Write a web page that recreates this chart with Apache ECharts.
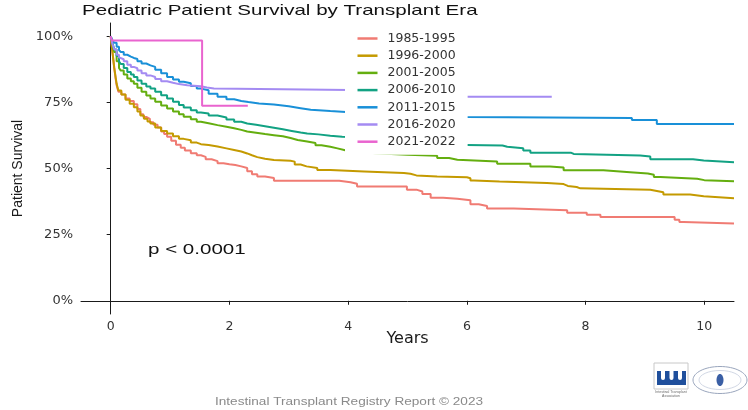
<!DOCTYPE html>
<html>
<head>
<meta charset="utf-8">
<title>Pediatric Patient Survival by Transplant Era</title>
<script src="https://cdn.jsdelivr.net/npm/echarts@6/dist/echarts.min.js"></script>
<style>
  html, body { margin: 0; padding: 0; background: #fff; }
  #chart { width: 748px; height: 410px; }
</style>
</head>
<body>
<div id="chart"></div>
<script>
// Kaplan-Meier steps: [years, survival %]
const eraNames = ['1985-1995', '1996-2000', '2001-2005', '2006-2010', '2011-2015', '2016-2020', '2021-2022']
const eraColors = ['#F07B73', '#C49A00', '#64AE0F', '#12A283', '#1990D8', '#A48BF2', '#E964CF']

const era1985 = [
  [0, 100], [0.02, 96], [0.04, 92], [0.06, 88], [0.08, 84.5], [0.1, 81.5], [0.13, 79], [0.18, 78],
  [0.25, 76.5], [0.32, 75.5], [0.39, 74.3], [0.45, 72.5], [0.5, 70.5], [0.55, 69.5], [0.6, 68.8],
  [0.66, 67.5], [0.72, 66.5], [0.79, 65.5], [0.85, 64], [0.9, 63], [0.95, 62], [1.02, 60.5],
  [1.1, 59], [1.18, 57.8], [1.25, 56.8], [1.35, 55.8], [1.45, 55], [1.52, 54.4], [1.6, 53.5],
  [1.7, 52.8], [1.8, 52], [1.9, 51.6], [2.0, 51.3], [2.1, 50.8], [2.2, 50.2], [2.3, 49], [2.38, 47.8],
  [2.47, 47], [2.6, 46.4], [2.75, 45.4], [3.85, 44.8], [4.04, 44.2], [4.15, 43.2], [4.99, 42],
  [5.15, 41.3], [5.25, 40.4], [5.39, 38.9], [5.6, 38.6], [5.84, 38], [6.06, 36.5], [6.2, 35.8],
  [6.34, 34.9], [6.79, 34.2], [7.69, 33.3], [8.02, 32.5], [8.25, 31.7], [9.5, 30.6], [9.58, 29.8],
  [9.65, 29.2], [10.5, 29.2]
]
const era1996 = [
  [0, 100], [0.02, 96], [0.04, 92], [0.06, 88], [0.08, 85], [0.1, 82], [0.13, 79.5], [0.18, 78],
  [0.25, 76], [0.32, 74.5], [0.39, 73.2], [0.45, 71.5], [0.5, 70], [0.56, 68.8], [0.62, 67.8],
  [0.67, 67], [0.75, 65.5], [0.85, 64.2], [0.95, 63.2], [1.05, 62.2], [1.15, 61.2], [1.23, 60.7],
  [1.35, 59.8], [1.45, 59.2], [1.52, 58.9], [1.65, 58.3], [1.8, 57.6], [1.95, 57], [2.08, 56.4],
  [2.2, 55.7], [2.3, 55], [2.38, 54.3], [2.47, 53.7], [2.6, 53.2], [2.75, 52.9], [3.03, 52.6],
  [3.1, 51.5], [3.2, 50.8], [3.3, 50.2], [3.48, 49.4], [3.7, 48.9], [4.27, 48.3], [4.94, 48],
  [5.05, 47.4], [5.15, 47], [5.5, 46.7], [6.0, 46.3], [6.06, 45.5], [6.12, 45.1], [6.55, 44.5],
  [7.35, 44.1], [7.63, 43.4], [7.7, 43], [7.85, 42.5], [7.91, 42], [9.09, 41.5], [9.2, 41],
  [9.31, 40.2], [9.76, 39.5], [9.99, 38.8], [10.5, 38.6]
]
const era2001 = [
  [0, 100], [0.03, 97], [0.06, 94], [0.1, 90.5], [0.14, 88], [0.17, 87], [0.22, 85.5], [0.28, 84],
  [0.34, 83], [0.39, 82], [0.45, 80.5], [0.52, 79], [0.6, 77.6], [0.67, 76.5], [0.75, 75.2],
  [0.85, 73.8], [0.95, 72.7], [1.05, 71.5], [1.15, 70.5], [1.23, 69.6], [1.35, 68.6], [1.45, 67.7],
  [1.52, 67.1], [1.65, 66.4], [1.8, 65.8], [1.95, 65.2], [2.08, 64.6], [2.2, 64], [2.3, 63.5],
  [2.45, 63], [2.6, 62.6], [2.75, 62.2], [2.9, 61.5], [3.03, 60.8], [3.15, 60.2], [3.31, 59.6],
  [3.45, 58.8], [3.55, 58.2], [3.7, 57.6], [3.82, 56.9], [3.95, 56.5], [4.2, 55.8], [4.45, 55.2],
  [5.0, 54.8], [5.5, 54], [5.7, 53.3], [5.84, 52.6], [6.51, 51.8], [7.07, 50.8], [7.4, 50.4],
  [7.63, 49.3], [8.3, 48.6], [8.75, 48.1], [9.05, 47.6], [9.15, 46.8], [9.26, 46.1], [9.88, 45.6],
  [10.0, 45.2], [10.5, 45.2]
]
const era2006 = [
  [0, 100], [0.03, 97.5], [0.06, 95], [0.1, 92.5], [0.14, 90.5], [0.17, 89.5], [0.22, 88],
  [0.28, 86.5], [0.34, 85.5], [0.39, 84.6], [0.45, 83.3], [0.52, 82], [0.6, 81], [0.67, 80.2],
  [0.75, 79], [0.85, 77.7], [0.95, 76.5], [1.05, 75.2], [1.15, 74], [1.23, 73.1], [1.35, 72],
  [1.45, 71.2], [1.52, 70.8], [1.65, 70], [1.8, 69.3], [1.95, 68.5], [2.08, 67.7], [2.2, 67],
  [2.3, 66.5], [2.45, 66], [2.6, 65.4], [2.75, 64.8], [2.9, 64.2], [3.05, 63.6], [3.2, 63.2],
  [3.31, 62.9], [3.5, 62.4], [3.7, 62], [3.9, 61.7], [4.3, 60.8], [5.0, 59.8], [5.8, 58.9],
  [6.0, 58.7], [6.6, 58.2], [6.68, 57.7], [6.95, 56.8], [7.07, 56], [7.75, 55.5], [7.8, 54.9],
  [8.92, 54.5], [9.09, 53.5], [9.81, 53], [9.99, 52.4], [10.5, 52.4]
]
const era2011 = [
  [0, 100], [0.03, 98.5], [0.06, 97.5], [0.1, 96], [0.14, 94.8], [0.17, 94], [0.22, 93],
  [0.28, 92.3], [0.34, 91.8], [0.39, 91.4], [0.45, 90.5], [0.52, 89.7], [0.6, 89], [0.67, 88.4],
  [0.75, 87.3], [0.85, 86], [0.95, 84.6], [1.05, 83.6], [1.15, 82.8], [1.23, 82.2], [1.35, 81.2],
  [1.45, 80.2], [1.52, 79.6], [1.65, 78.3], [1.8, 77.1], [1.95, 76.2], [2.08, 75.5], [2.2, 75.1],
  [2.32, 74.6], [2.5, 74.2], [2.75, 73.5], [3.0, 72.8], [3.2, 72.2], [3.37, 71.7], [3.7, 71.4],
  [3.96, 71.1], [4.5, 70.2], [5.2, 69.5], [6.0, 69.1], [8.78, 68.3], [9.2, 66.8], [10.5, 66.8]
]
const era2016 = [
  [0, 100], [0.03, 97], [0.06, 95], [0.1, 93], [0.14, 92], [0.17, 91.3], [0.22, 90.5], [0.28, 89.2],
  [0.34, 88.4], [0.39, 87.9], [0.45, 87], [0.52, 86], [0.6, 85.2], [0.67, 84.6], [0.75, 83.8],
  [0.85, 83], [0.95, 82.4], [1.05, 81.9], [1.15, 81.5], [1.29, 81.1], [1.52, 80.6], [1.62, 80.2],
  [1.74, 79.6], [4.4, 77.1], [7.43, 77.1]
]
const era2021 = [[0, 100], [0.02, 98.4], [1.54, 73.7], [2.31, 73.7]]

const eraData = [era1985, era1996, era2001, era2006, era2011, era2016, era2021]
const xTicks = [0, 2, 4, 6, 8, 10]
const yTicks = [0, 25, 50, 75, 100]

const chartTitle = 'Pediatric Patient Survival by Transplant Era'
const pValueText = 'p < 0.0001'
const footerText = 'Intestinal Transplant Registry Report \u00A9 2023'

// the source picture is stretched sideways, so free text is widened to match
const TEXT_STRETCH = 1.37
const AXIS_COLOR = '#1a1a1a'
const LABEL_FONT = 'DejaVu Sans'

const chart = echarts.init(document.getElementById('chart'))

chart.setOption({
  animation: false,
  backgroundColor: '#fff',
  grid: { left: 81, right: 14, top: 23, bottom: 96 },
  xAxis: {
    type: 'value',
    min: -0.5,
    max: 10.5,
    name: 'Years',
    nameLocation: 'middle',
    nameGap: 17,
    nameMoveOverlap: false,
    nameTextStyle: { fontFamily: LABEL_FONT, fontSize: 16, color: '#1a1a1a' },
    splitLine: { show: false },
    axisLine: { show: true, lineStyle: { color: AXIS_COLOR, width: 1 } },
    axisTick: { show: true, length: 4, customValues: xTicks, lineStyle: { color: AXIS_COLOR } },
    axisLabel: {
      customValues: xTicks,
      margin: 6,
      fontFamily: LABEL_FONT,
      fontSize: 12.5,
      color: '#333'
    }
  },
  yAxis: {
    type: 'value',
    min: -5,
    max: 105,
    name: 'Patient Survival',
    nameLocation: 'middle',
    nameRotate: 90,
    nameGap: 56,
    nameTextStyle: { fontFamily: 'Liberation Sans', fontSize: 14, color: '#1a1a1a' },
    splitLine: { show: false },
    axisLine: { show: true, lineStyle: { color: AXIS_COLOR, width: 1 } },
    axisTick: { show: true, length: 4, customValues: yTicks, lineStyle: { color: AXIS_COLOR } },
    axisLabel: {
      customValues: yTicks,
      margin: 8,
      fontFamily: LABEL_FONT,
      fontSize: 13,
      color: '#333',
      formatter: (value) => `${value}%`
    }
  },
  legend: {
    orient: 'vertical',
    left: 345,
    top: 25.5,
    padding: [6, 12, 6, 12.5],
    backgroundColor: '#fff',
    icon: 'rect',
    itemWidth: 20,
    itemHeight: 2.5,
    itemGap: 3.2,
    data: eraNames,
    textStyle: {
      fontFamily: LABEL_FONT,
      fontSize: 12.5,
      lineHeight: 14,
      color: '#333',
      padding: [0, 0, 0, 5]
    }
  },
  series: eraData.map((data, i) => ({
    name: eraNames[i],
    type: 'line',
    step: 'end',
    data,
    symbol: 'none',
    lineStyle: { width: 2, color: eraColors[i] },
    itemStyle: { color: eraColors[i] }
  })),
  graphic: [
    {
      type: 'text',
      x: 82,
      y: 11,
      scaleX: TEXT_STRETCH,
      style: {
        text: chartTitle,
        fontFamily: 'Liberation Sans',
        fontSize: 15,
        fill: '#111',
        verticalAlign: 'middle'
      }
    },
    {
      type: 'text',
      x: 148,
      y: 250,
      scaleX: TEXT_STRETCH,
      style: {
        text: pValueText,
        fontFamily: 'Liberation Sans',
        fontSize: 15,
        fill: '#111',
        verticalAlign: 'middle'
      }
    },
    {
      type: 'text',
      x: 215,
      y: 402,
      scaleX: 1.36,
      style: {
        text: footerText,
        fontFamily: 'Liberation Sans',
        fontSize: 10,
        fill: '#8a8a8a',
        verticalAlign: 'middle'
      }
    },
    // registry logos, bottom right
    {
      type: 'group',
      children: [
        { type: 'rect', shape: { x: 654, y: 363, width: 34, height: 26 }, style: { fill: '#fff', stroke: '#c8c8c8', lineWidth: 1 } },
        { type: 'rect', shape: { x: 657, y: 371, width: 29, height: 14 }, style: { fill: '#1f4f9c' } },
        { type: 'rect', shape: { x: 661, y: 371, width: 4, height: 9, r: [0, 0, 2, 2] }, style: { fill: '#fff' } },
        { type: 'rect', shape: { x: 669.5, y: 371, width: 4, height: 9, r: [0, 0, 2, 2] }, style: { fill: '#fff' } },
        { type: 'rect', shape: { x: 678, y: 371, width: 4, height: 9, r: [0, 0, 2, 2] }, style: { fill: '#fff' } },
        { type: 'text', x: 671, y: 392, style: { text: 'Intestinal Transplant', fontSize: 3.5, fill: '#6a6a6a', align: 'center', verticalAlign: 'middle' } },
        { type: 'text', x: 671, y: 396.5, style: { text: 'Association', fontSize: 3.5, fill: '#6a6a6a', align: 'center', verticalAlign: 'middle' } },
        { type: 'ellipse', shape: { cx: 720, cy: 380, rx: 27, ry: 13.5 }, style: { fill: '#fff', stroke: '#9aa6bd', lineWidth: 1 } },
        { type: 'ellipse', shape: { cx: 720, cy: 380, rx: 21, ry: 9.5 }, style: { fill: 'none', stroke: '#c5cddd', lineWidth: 0.8 } },
        { type: 'ellipse', shape: { cx: 720, cy: 380, rx: 3.5, ry: 6 }, style: { fill: '#3a5fa5' } }
      ]
    }
  ]
})
</script>
</body>
</html>
